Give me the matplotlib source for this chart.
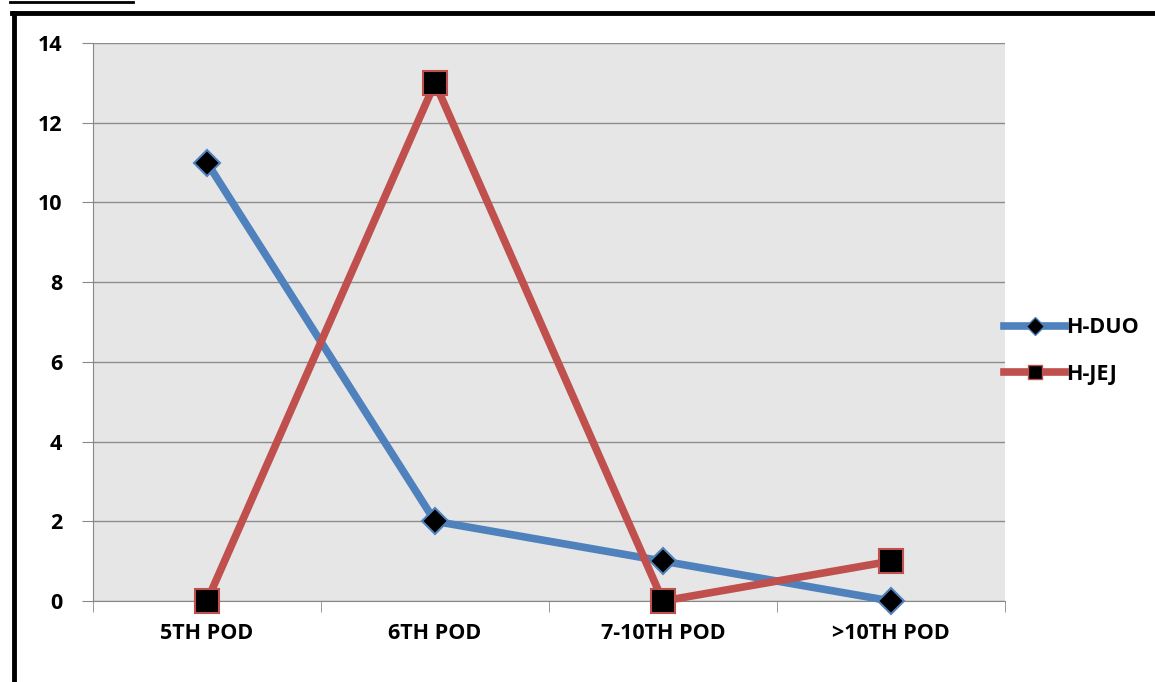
#!/usr/bin/env python3
"""H-DUO vs H-JEJ counts by post-operative day."""
import matplotlib.pyplot as plt
from matplotlib.lines import Line2D
import numpy as np

plt.rcParams["font.family"] = ["Open Sans", "DejaVu Sans"]
plt.rcParams["font.weight"] = "bold"

days = ["5TH POD", "6TH POD", "7-10TH POD", ">10TH POD"]
h_duo = [11, 2, 1, 0]
h_jej = [0, 13, 0, 1]
yticks = [0, 2, 4, 6, 8, 10, 12, 14]

BLUE = "#4f81bd"
RED = "#c0504d"
FS = 15.5

fig = plt.figure(figsize=(11.55, 6.82), dpi=100)
ax = fig.add_axes([93 / 1155, 1 - 601 / 682, 912 / 1155, 558 / 682])
ax.set_facecolor("#e6e6e6")

x = np.arange(len(days))
ax.plot(x, h_duo, color=BLUE, lw=5.5, marker="D", ms=13, mfc="black",
        mec=BLUE, mew=1.5, label="H-DUO", zorder=3, clip_on=False)
ax.plot(x, h_jej, color=RED, lw=5.5, marker="s", ms=17, mfc="black",
        mec=RED, mew=1.5, label="H-JEJ", zorder=3, clip_on=False)

ax.set_xlim(-0.5, len(days) - 0.5)
ax.set_ylim(0, 14)
ax.set_yticks(yticks)
ax.set_yticklabels([str(v) for v in yticks], fontsize=FS, fontweight="bold")
ax.set_xticks(x)
ax.set_xticklabels(days, fontsize=FS, fontweight="bold")
ax.set_xticks(np.arange(-0.5, len(days)), minor=True)
ax.tick_params(axis="x", which="major", length=0, pad=16)
ax.tick_params(axis="x", which="minor", length=8, color="#888888")
ax.tick_params(axis="y", length=8, color="#888888", pad=14)
ax.grid(axis="y", color="#8c8c8c", lw=1)
ax.set_axisbelow(True)
for s in ["top", "right"]:
    ax.spines[s].set_visible(False)
for s in ["left", "bottom"]:
    ax.spines[s].set_color("#888888")

handles = [
    Line2D([], [], color=BLUE, lw=5.5, marker="D", ms=9, mfc="black", mec=BLUE),
    Line2D([], [], color=RED, lw=5.5, marker="s", ms=10, mfc="black", mec=RED),
]
fig.legend(handles, ["H-DUO", "H-JEJ"], loc="center left",
           bbox_to_anchor=(985 / 1155, 1 - 351 / 682), frameon=False,
           handlelength=2.8, handletextpad=0.05, labelspacing=1.2,
           prop={"size": FS, "weight": "bold"})

# page frame and cut-off caption underline
fig.add_artist(Line2D([14 / 1155, 14 / 1155], [0, 1 - 13 / 682],
                      color="black", lw=3.5, transform=fig.transFigure))
fig.add_artist(Line2D([12 / 1155, 1], [1 - 13 / 682, 1 - 13 / 682],
                      color="black", lw=3.5, transform=fig.transFigure))
fig.add_artist(Line2D([10 / 1155, 133 / 1155], [1 - 2 / 682, 1 - 2 / 682],
                      color="black", lw=2, transform=fig.transFigure))

fig.savefig("out.png", dpi=100)
